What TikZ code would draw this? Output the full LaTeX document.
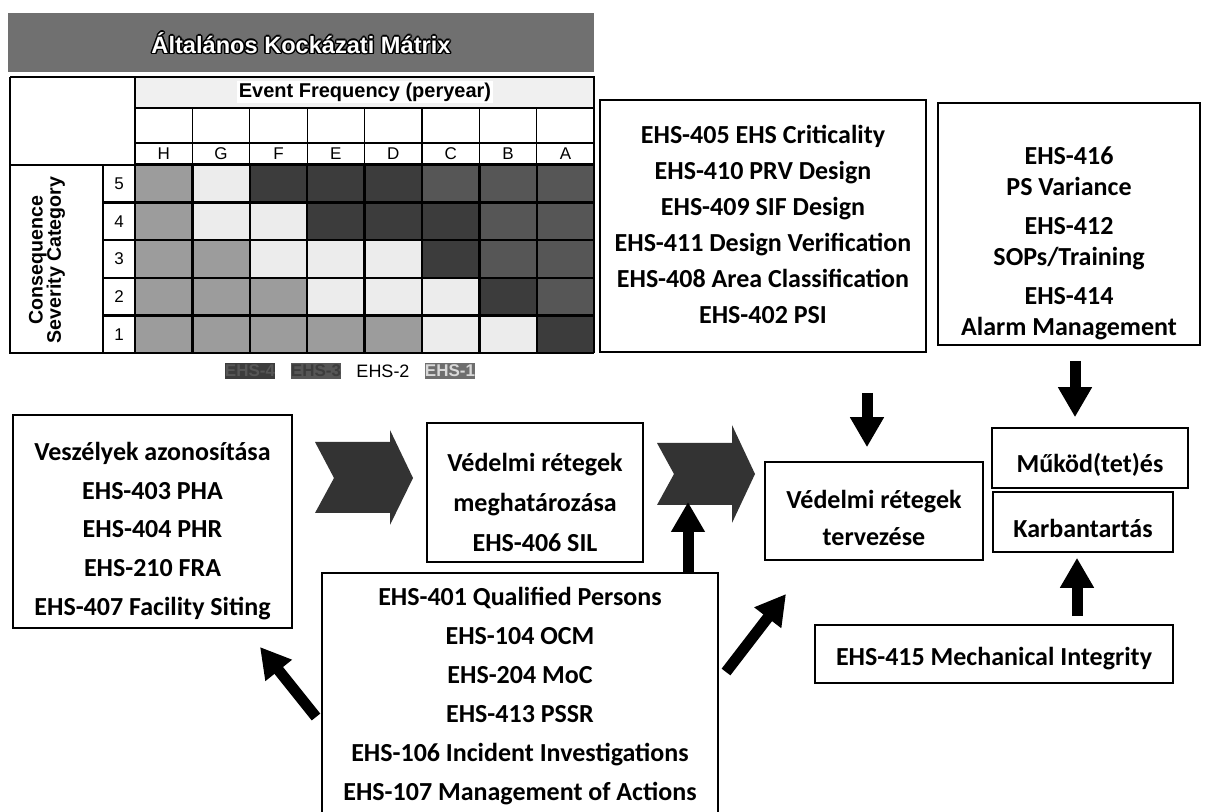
\documentclass[tikz,border=0pt]{standalone}
\usepackage{fontspec}
\setmainfont{Carlito}
\newfontfamily\arialf{Liberation Sans}
\usetikzlibrary{arrows.meta}
\definecolor{gL}{HTML}{9C9C9C}
\definecolor{gD}{HTML}{ECECEC}
\definecolor{gX}{HTML}{3C3C3C}
\definecolor{gY}{HTML}{565656}
\definecolor{gT}{HTML}{707070}
\definecolor{gS}{HTML}{F0F0F0}
\definecolor{gC}{HTML}{333333}
\definecolor{gE}{HTML}{6E6E6E}
\begin{document}
\begin{tikzpicture}[x=0.5pt,y=-0.5pt,
  frame/.style={draw=black,line width=0.8pt,fill=white,inner sep=0pt},
  txt/.style={align=center,inner sep=0pt,font=\bfseries\fontsize{13}{19.5}\selectfont},
  blk/.style={draw=black,line width=5.5pt,-{Triangle[width=16pt,length=15pt]}},
  gridline/.style={draw=black,line width=1.2pt},
  thinline/.style={draw=black,line width=0.6pt},
  lab/.style={font=\arialf\fontsize{8.5}{10}\selectfont,inner sep=0pt},
  legbox/.style={minimum width=25pt,minimum height=8pt,inner sep=0pt,font=\arialf\bfseries\fontsize{8.5}{9}\selectfont},
  ttl/.style={font=\arialf\bfseries\fontsize{11.8}{13}\selectfont},
  chev/.style={fill=gC}
]
\useasboundingbox (0,0) rectangle (1206,812);
\clip (0,0) rectangle (1206,812);
% ---------- title band
\fill[gT] (8,13) rectangle (594,72);
\foreach \dx/\dy [count=\n] in {-1.5/0,1.5/0,0/-1.5,0/1.5,1.2/1.2,-1.2/-1.2,1.2/-1.2,-1.2/1.2}
  \node[ttl,text=black] (titlesh\n) at (301+\dx,43+\dy) {Általános Kockázati Mátrix};
\node[ttl,text=white] (title) at (301,43) {Általános Kockázati Mátrix};
% ---------- header rows
\fill[gS] (135,77) rectangle (594,108);
\draw[thinline] (135,77) rectangle (594,108);
\node[fill=white,inner sep=1pt,font=\arialf\bfseries\fontsize{10}{12}\selectfont] (freq) at (365,92) {Event Frequency (peryear)};
\draw[thinline] (135,108) rectangle (594,164);
\draw[thinline] (135,143) -- (594,143);
\foreach \i in {1,...,7} \draw[thinline] ({135+57.4*\i},108) -- ({135+57.4*\i},164);
\foreach \l [count=\i from 0] in {H,G,F,E,D,C,B,A}
  \node[lab] (col\l) at ({163.7+57.4*\i},154) {\l};
% ---------- left frame
\draw[thinline] (10,77) -- (10,353) -- (103,353);
\draw[thinline] (10,77) -- (135,77);
\draw[thinline] (10,165) -- (103,165);
% ---------- cells
\foreach \r/\cats in {5/{L,D,X,X,X,Y,Y,Y},4/{L,D,D,X,X,X,Y,Y},3/{L,L,D,D,D,X,Y,Y},2/{L,L,L,D,D,D,X,Y},1/{L,L,L,L,L,D,D,X}}{
  \foreach \c [count=\i from 0] in \cats
    \fill[fill=g\c] ({135+57.4*\i},{165+37.6*(5-\r)}) rectangle ++(57.4,37.6);
}
\foreach \k in {0,...,5} \draw[gridline] (103,{165+37.6*\k}) -- (594,{165+37.6*\k});
\foreach \i in {0,...,8} \draw[gridline] ({135+57.4*\i},165) -- ({135+57.4*\i},353);
\draw[gridline] (103,165) -- (103,353);
\foreach \r in {5,...,1} \node[lab] (sev\r) at (119,{183.8+37.6*(5-\r)}) {\r};
\node[rotate=90,align=center,font=\arialf\bfseries\fontsize{9.8}{9.2}\selectfont] (sevlab) at (47,260) {Consequence\\Severity Category};
% ---------- legend
\node[legbox,fill=gX,text=gY] (leg4) at (250,371) {EHS-4};
\node[legbox,fill=gY,text=gX] (leg3) at (316,371) {EHS-3};
\node[lab,font=\arialf\fontsize{9}{10}\selectfont] (leg2) at (383,371) {EHS-2};
\node[legbox,fill=gE,text=white!85!black] (leg1) at (450,371) {EHS-1};
% ---------- boxes (frames)
\node[frame,minimum width=163pt,minimum height=126pt] (crit) at (763,226) {};
\node[frame,minimum width=131pt,minimum height=121pt] (ops) at (1069,224) {};
\node[frame,minimum width=139.5pt,minimum height=106.5pt] (haz) at (152.5,521.5) {};
\node[frame,minimum width=108pt,minimum height=69.5pt] (lopa) at (535,492.5) {};
\node[frame,minimum width=109pt,minimum height=49pt] (terv) at (874,511) {};
\node[frame,minimum width=98pt,minimum height=30pt] (mukod) at (1090,458) {};
\node[frame,minimum width=90pt,minimum height=30pt] (karb) at (1083,522) {};
\node[frame,minimum width=179pt,minimum height=29pt] (mech) at (994,654) {};
\node[frame,minimum width=198pt,minimum height=124.5pt] (bot) at (520,697.5) {};
% ---------- box texts
\node[txt,font=\bfseries\fontsize{13}{18}\selectfont] (critT) at (crit.center |- 0,224)
  {EHS-405 EHS Criticality\\EHS-410 PRV Design\\EHS-409 SIF Design\\EHS-411 Design Verification\\EHS-408 Area Classification\\EHS-402 PSI};
\node[txt,font=\bfseries\fontsize{13}{15.5}\selectfont] (opsT) at (ops.center |- 0,243)
  {EHS-416\\PS Variance\\[4pt]EHS-412\\SOPs/Training\\[4pt]EHS-414\\Alarm Management};
\node[txt,font=\bfseries\fontsize{13}{19.4}\selectfont] (hazT) at (haz.center |- 0,531)
  {Veszélyek azonosítása\\EHS-403 PHA\\EHS-404 PHR\\EHS-210 FRA\\EHS-407 Facility Siting};
\node[txt,font=\bfseries\fontsize{13}{20}\selectfont] (lopaT) at (lopa.center |- 0,502)
  {Védelmi rétegek\\meghatározása\\EHS-406 SIL};
\node[txt,font=\bfseries\fontsize{13}{18.5}\selectfont] (tervT) at (terv.center |- 0,518)
  {Védelmi rétegek\\tervezése};
\node[txt] (mukodT) at (mukod.center |- 0,465) {Működ(tet)és};
\node[txt] (karbT) at (karb.center |- 0,528) {Karbantartás};
\node[txt] (mechT) at (mech.center |- 0,659) {EHS-415 Mechanical Integrity};
\node[txt] (botT) at (bot.center |- 0,696)
  {EHS-401 Qualified Persons\\EHS-104 OCM\\EHS-204 MoC\\EHS-413 PSSR\\EHS-106 Incident Investigations\\EHS-107 Management of Actions};
% ---------- chevrons
\fill[chev] (315,442) -- (390,442) -- (390,430) -- (413,478) -- (390,525) -- (390,513) -- (315,513) -- (334,478) -- cycle;
\fill[chev] (657,443) -- (732,443) -- (732,425) -- (755,474) -- (732,523) -- (732,505) -- (657,505) -- (674,474) -- cycle;
% ---------- block arrows
\coordinate (dnX) at (867,0);
\draw[blk,shorten <=20pt,shorten >=7pt] (crit.south -| dnX) -- (terv.north -| dnX);
\coordinate (dn2X) at (1075,0);
\draw[blk,shorten <=7.5pt,shorten >=5pt] (ops.south -| dn2X) -- (mukod.north -| dn2X);
\coordinate (upX) at (1077,0);
\draw[blk,shorten <=4pt,shorten >=2.5pt] (mech.north -| upX) -- (karb.south -| upX);
\coordinate (upTip) at (688,502);
\draw[blk] (bot.north -| upTip) -- (upTip);
\coordinate (ulTail) at (316,717);
\coordinate (ulTip) at (260,647);
\draw[blk] (ulTail) -- (ulTip);
\coordinate (urTail) at (726,672);
\coordinate (urTip) at (786,594);
\draw[blk] (urTail) -- (urTip);
\end{tikzpicture}
\end{document}
